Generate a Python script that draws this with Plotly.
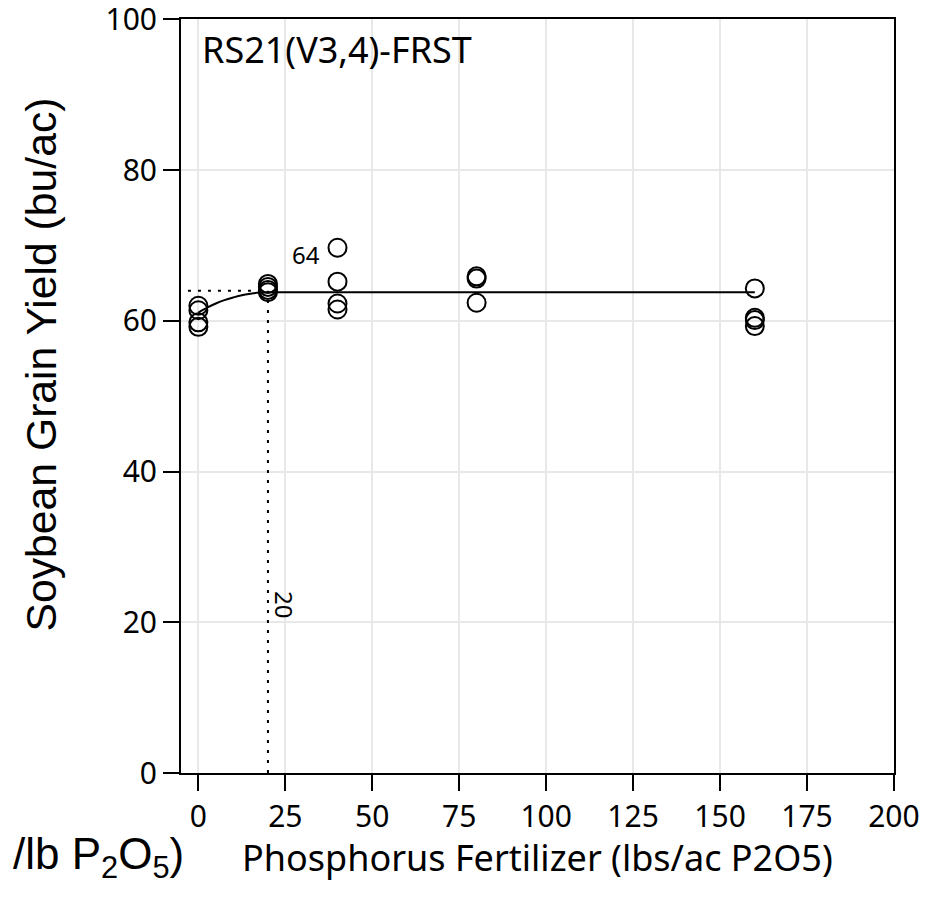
import plotly.graph_objects as go

# Observed yields
p_rate = [0, 0, 0, 0, 20, 20, 20, 20, 40, 40, 40, 40, 80, 80, 80, 160, 160, 160, 160]
yield_obs = [62.0, 61.4, 59.8, 59.2, 64.9, 64.5, 64.1, 63.8, 69.7, 65.2, 62.3, 61.5,
             65.9, 65.6, 62.4, 64.3, 60.4, 60.1, 59.3]

# Fitted response curve
fit_x = [0, 2.5, 5, 7.5, 10, 12.5, 15, 17.5, 20, 160]
fit_y = [61.1, 61.75, 62.3, 62.75, 63.1, 63.4, 63.6, 63.75, 63.8, 63.8]

# Optimum guide
opt_x = 20
opt_y = 64

x_ticks = [0, 25, 50, 75, 100, 125, 150, 175, 200]
y_ticks = [0, 20, 40, 60, 80, 100]

TICKFONT = dict(family="Noto Sans", size=30, color="black")

fig = go.Figure()

# dotted guide lines
fig.add_trace(go.Scatter(x=[-3, opt_x], y=[opt_y, opt_y], mode="lines",
                         line=dict(color="black", width=2, dash="3px,7px"),
                         hoverinfo="skip", showlegend=False))
fig.add_trace(go.Scatter(x=[opt_x, opt_x], y=[0, opt_y], mode="lines",
                         line=dict(color="black", width=2, dash="3px,7px"),
                         hoverinfo="skip", showlegend=False))

# fitted curve
fig.add_trace(go.Scatter(x=fit_x, y=fit_y, mode="lines",
                         line=dict(color="black", width=2, shape="spline"),
                         showlegend=False))

# observations
fig.add_trace(go.Scatter(x=p_rate, y=yield_obs, mode="markers",
                         marker=dict(symbol="circle-open", size=18, color="black",
                                     line=dict(width=2, color="black")),
                         showlegend=False))

fig.add_annotation(x=31, y=68.8, xref="x", yref="y", text=str(opt_y), showarrow=False,
                   font=dict(family="Noto Sans", size=24, color="black"))
fig.add_annotation(x=24.6, y=22.3, xref="x", yref="y", text=str(opt_x), showarrow=False,
                   textangle=90, font=dict(family="Noto Sans", size=24, color="black"))
fig.add_annotation(x=0.0266, y=0.959, xref="paper", yref="paper", text="RS21(V3,4)-FRST",
                   showarrow=False, xanchor="left", yanchor="middle",
                   font=dict(family="Noto Sans", size=36, color="black"))
fig.add_annotation(x=0.007, y=-0.111, xref="paper", yref="paper",
                   text="/lb P<sub>2</sub>O<sub>5</sub>)", showarrow=False,
                   xanchor="right", yanchor="middle",
                   font=dict(family="Liberation Sans", size=44, color="black"))
# axis titles
fig.add_annotation(x=-0.195, y=0.5418, xref="paper", yref="paper",
                   text="Soybean Grain Yield (bu/ac)", showarrow=False, textangle=-90,
                   xanchor="center", yanchor="middle",
                   font=dict(family="Liberation Sans", size=42.7, color="black"))
fig.add_annotation(x=0.5, y=-0.1115, xref="paper", yref="paper",
                   text="Phosphorus Fertilizer (lbs/ac P2O5)", showarrow=False,
                   xanchor="center", yanchor="middle", borderpad=0,
                   font=dict(family="Noto Sans", size=36, color="black"))

axis_common = dict(showline=True, linecolor="black", linewidth=2, mirror=True,
                   ticks="outside", ticklen=16, tickwidth=2, tickcolor="black",
                   showgrid=True, gridcolor="#e8e8e8", gridwidth=2, zeroline=False,
                   tickfont=TICKFONT, automargin=False, ticklabeloverflow="allow")

fig.update_layout(
    template="none",
    width=940, height=890,
    margin=dict(l=173, r=54, t=11, b=125),
    paper_bgcolor="white", plot_bgcolor="white",
    xaxis=dict(range=[-5, 200.02], tickvals=x_ticks, ticktext=[str(v) for v in x_ticks],
               **axis_common),
    yaxis=dict(range=[0, 100.05], tickvals=y_ticks, ticktext=[str(v) for v in y_ticks],
               **axis_common),
)

fig.write_html("out.html")
